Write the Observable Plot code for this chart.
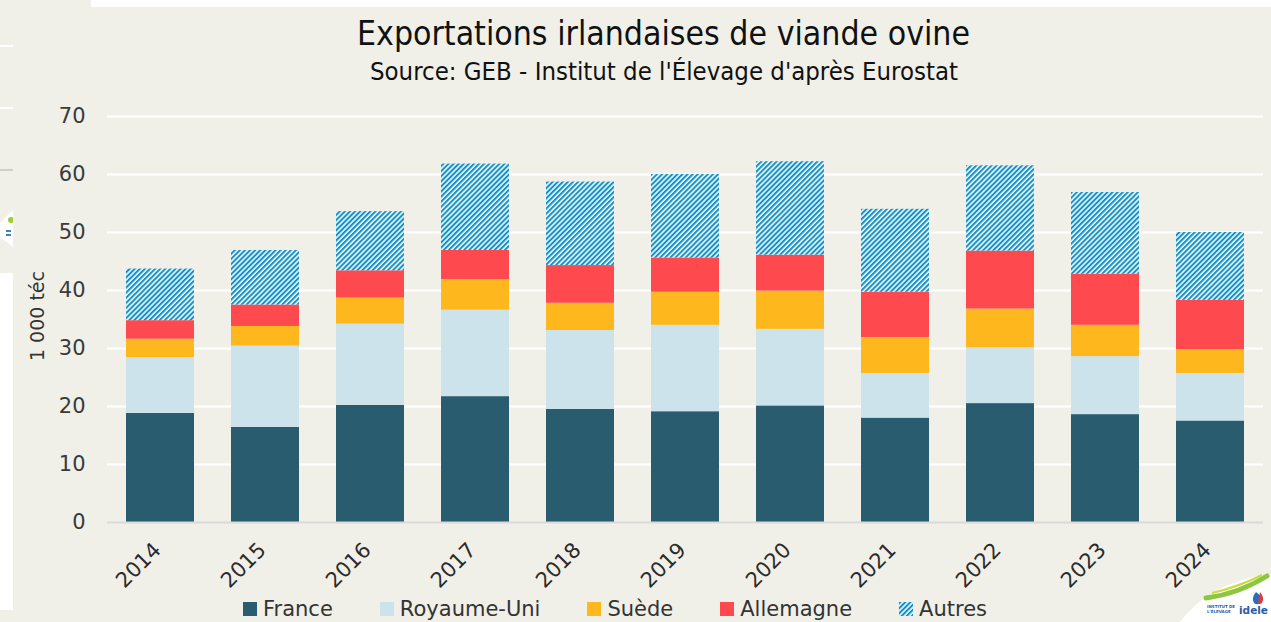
<!DOCTYPE html>
<html><head><meta charset="utf-8">
<script src="https://cdn.jsdelivr.net/npm/d3@7"></script>
<script src="https://cdn.jsdelivr.net/npm/@observablehq/plot@0.6"></script>
<style>
html,body{margin:0;padding:0;background:#f0f0e8;}
#wrap{position:relative;width:1271px;height:622px;overflow:hidden;background:#f0f0e8;font-family:"DejaVu Sans",sans-serif;}
.fit{position:absolute;white-space:nowrap;transform-origin:0 0;color:#111;line-height:1;font-family:"DejaVu Sans Condensed","DejaVu Sans",sans-serif;font-stretch:condensed;}
#chart{position:absolute;left:0;top:0;}
#ylabel{position:absolute;left:37px;top:316px;transform:translate(-50%,-50%) rotate(-90deg);white-space:nowrap;font-size:19px;color:#333;line-height:1;}
#legend{position:absolute;left:243px;top:599px;display:flex;gap:47px;font-size:21px;color:#333;line-height:20px;white-space:nowrap;}
#legend .item{display:flex;align-items:center;gap:6px;}
.art{position:absolute;}
</style></head>
<body>
<svg width="0" height="0" style="position:absolute">
  <defs>
    <pattern id="hatch" patternUnits="userSpaceOnUse" width="3.6" height="3.6" patternTransform="rotate(45)">
      <rect width="3.6" height="3.6" fill="#f2f9fb"/>
      <rect width="2" height="3.6" fill="#1492c8"/>
    </pattern>
  </defs>
</svg>
<div id="wrap">
  <div class="art" style="left:91px;top:0;width:1180px;height:7px;background:#fff"></div>
  <div class="art" style="left:0;top:45px;width:13px;height:2px;background:#fff"></div>
  <div class="art" style="left:0;top:107px;width:13px;height:2px;background:#fff"></div>
  <div class="art" style="left:0;top:169px;width:13px;height:2px;background:#cfcfcf"></div>
  <svg class="art" style="left:0;top:205px" width="13" height="45">
    <path d="M13,5 L0,18 L0,32 L13,42 Z" fill="#fff"/>
    <circle cx="11" cy="15" r="3" fill="#9ccb3b"/>
    <rect x="6" y="25" width="5" height="2" fill="#3f7fc4"/>
    <rect x="6" y="29" width="5" height="2" fill="#3f7fc4"/>
  </svg>
  <div class="art" style="left:0;top:273px;width:13px;height:337px;background:#fff"></div>

  <div id="chart"></div>
  <div id="title" class="fit" style="top:16px;font-size:34px;">Exportations irlandaises de viande ovine</div>
  <div id="subtitle" class="fit" style="top:59px;font-size:25px;">Source: GEB - Institut de l'Élevage d'après Eurostat</div>
  <div id="ylabel">1 000 téc</div>
  <div id="legend"></div>

  <svg class="art" style="left:1150px;top:540px" width="121" height="82">
    <path d="M30,82 Q60,42 121,34 V82 Z" fill="#fff"/>
    <path d="M56,58 Q88,54 117,36" stroke="#8dc63f" stroke-width="5" fill="none" stroke-linecap="round"/>
    <path d="M62,53 Q88,47 112,35" stroke="#c8dc3c" stroke-width="2" fill="none"/>
    <path d="M106,52 q-5,6 -2,11 q4,3 7,-1 q2,-5 -5,-10z" fill="#2b6cb6"/>
    <path d="M110,52 q5,6 2,11 q-3,2 -4,0 z" fill="#e5383b"/>
    <text x="57" y="68" font-size="4" font-weight="bold" fill="#2b5ea8" font-family="DejaVu Sans">INSTITUT DE</text>
    <text x="57" y="73" font-size="4" font-weight="bold" fill="#2b5ea8" font-family="DejaVu Sans">L'ÉLEVAGE</text>
    <text x="89" y="74" font-size="11" font-weight="bold" fill="#2b5ea8" font-family="DejaVu Sans" textLength="29" lengthAdjust="spacingAndGlyphs">idele</text>
  </svg>
</div>
<script>
const years = ["2014","2015","2016","2017","2018","2019","2020","2021","2022","2023","2024"];
const series = ["France","Royaume-Uni","Suède","Allemagne","Autres"];
const colors = ["#295c6e","#cce3eb","#feb81d","#fe4a4f","url(#hatch)"];
const france     = [18.8,16.4,20.2,21.7,19.5,19.1,20.1,18.0,20.5,18.6,17.5];
const royaumeUni = [ 9.6,14.0,14.0,14.9,13.6,14.9,13.2, 7.7, 9.6,10.0, 8.2];
const suede      = [ 3.2, 3.4, 4.5, 5.3, 4.7, 5.7, 6.6, 6.2, 6.7, 5.4, 4.1];
const allemagne  = [ 3.2, 3.7, 4.7, 5.0, 6.5, 5.9, 6.2, 7.8,10.0, 8.8, 8.5];
const autres     = [ 8.9, 9.4,10.2,14.9,14.4,14.4,16.1,14.3,14.7,14.1,11.7];
const yTicks = [0,10,20,30,40,50,60,70];

const values = [france, royaumeUni, suede, allemagne, autres];
const data = series.flatMap((s, i) => years.map((y, j) => ({year: y, series: s, value: values[i][j]})));

const chart = Plot.plot({
  width: 1271, height: 622,
  marginTop: 116, marginBottom: 100, marginLeft: 107, marginRight: 8,
  style: {background: "transparent", fontFamily: "DejaVu Sans", color: "#3a3a3a"},
  x: {domain: years, paddingInner: 0.35, paddingOuter: 0.175, label: null},
  y: {domain: [0, 70], label: null},
  color: {domain: series, range: colors},
  marks: [
    Plot.gridY(yTicks.filter(d => d > 0), {stroke: "#ffffff", strokeOpacity: 1, strokeWidth: 2.2}),
    Plot.barY(data, {x: "year", y: "value", fill: "series"}),
    Plot.ruleY([0], {stroke: "#dadada", strokeWidth: 2}),
    Plot.axisY(yTicks, {tickSize: 0, tickPadding: 22, label: null, fontSize: 21, fill: "#3a3a3a"}),
    Plot.axisX({tickSize: 0, tickPadding: 24, dx: -3, tickRotate: -45, label: null, fontSize: 21, fill: "#2a2a2a"})
  ]
});
document.getElementById("chart").appendChild(chart);

const legend = document.getElementById("legend");
series.forEach((s, i) => {
  const item = document.createElement("div");
  item.className = "item";
  const sw = document.createElementNS("http://www.w3.org/2000/svg", "svg");
  sw.setAttribute("width", 14); sw.setAttribute("height", 14);
  sw.innerHTML = `<rect width="14" height="14" fill="${colors[i]}"/>`;
  item.appendChild(sw);
  const t = document.createElement("span");
  t.textContent = s;
  item.appendChild(t);
  legend.appendChild(item);
});

function fit(id, left, right) {
  const el = document.getElementById(id);
  const w = el.getBoundingClientRect().width;
  el.style.left = left + "px";
  el.style.transform = `scaleX(${(right - left) / w})`;
}
fit("title", 357, 970);
fit("subtitle", 370, 958);
</script>
</body></html>
